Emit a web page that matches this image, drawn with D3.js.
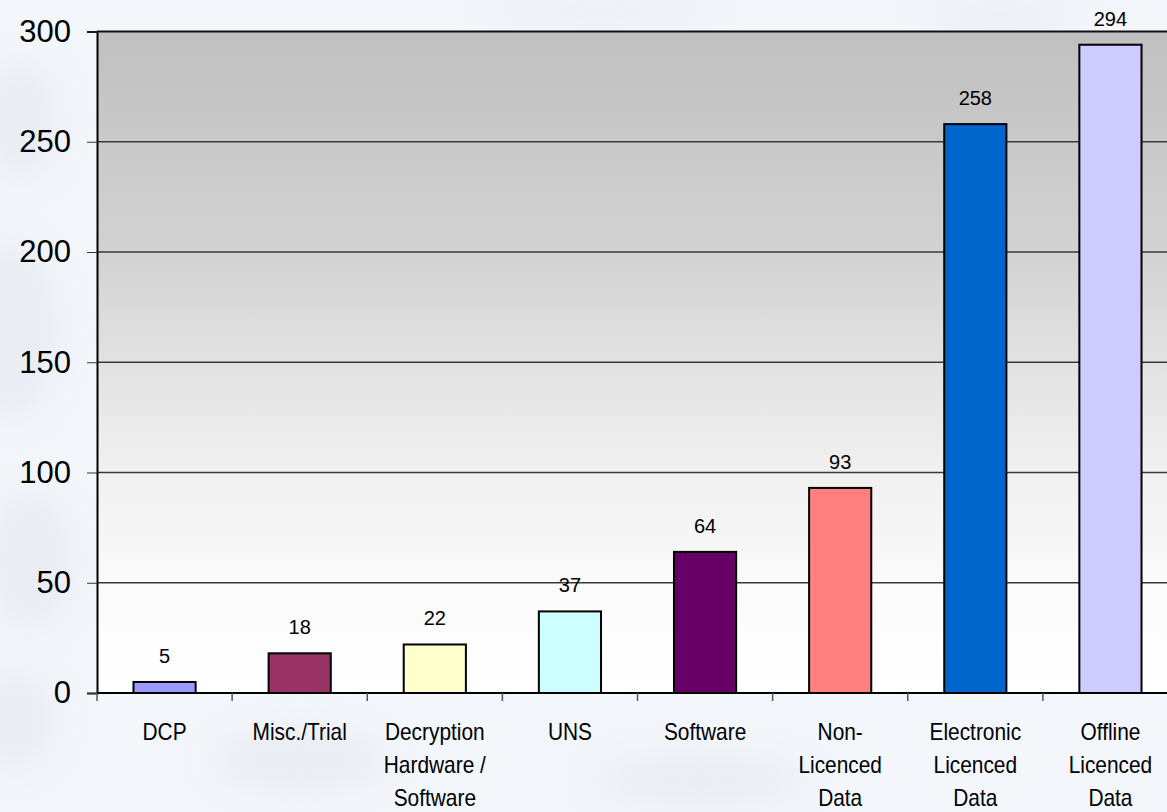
<!DOCTYPE html>
<html>
<head>
<meta charset="utf-8">
<script src="https://cdn.jsdelivr.net/npm/d3@7/dist/d3.min.js"></script>
<style>
  html, body { margin: 0; padding: 0; background: #f3f6fb; overflow: hidden; }
  svg { display: block; }
</style>
</head>
<body>
<svg id="chart" width="1167" height="812"></svg>
<script>
// Counts per category
const categories = [
  ["DCP"],
  ["Misc./Trial"],
  ["Decryption", "Hardware /", "Software"],
  ["UNS"],
  ["Software"],
  ["Non-", "Licenced", "Data"],
  ["Electronic", "Licenced", "Data"],
  ["Offline", "Licenced", "Data"]
];
const values = [5, 18, 22, 37, 64, 93, 258, 294];
const barColors = ["#9999ff", "#993366", "#ffffcc", "#ccffff", "#660066", "#ff8080", "#0066cc", "#ccccff"];
const yTicks = [0, 50, 100, 150, 200, 250, 300];

(function draw() {
  const svg = d3.select("#chart");
  const W = 1167, H = 812;
  const m = { left: 97, top: 31.5, bottom: 693, right: 1178 };

  const defs = svg.append("defs");

  // Soft cloudy page backdrop
  const blur = defs.append("filter").attr("id", "soft")
    .attr("x", "-50%").attr("y", "-50%").attr("width", "200%").attr("height", "200%");
  blur.append("feGaussianBlur").attr("stdDeviation", 18);

  const plotGrad = defs.append("linearGradient").attr("id", "plotBg")
    .attr("x1", 0).attr("y1", 0).attr("x2", 0).attr("y2", 1);
  [["0%", "#c0c0c0"], ["33%", "#d2d2d2"], ["50%", "#e2e2e2"], ["66%", "#f0f0f0"],
   ["85%", "#fbfbfb"], ["100%", "#ffffff"]]
    .forEach(([o, c]) => plotGrad.append("stop").attr("offset", o).attr("stop-color", c));

  svg.append("rect").attr("width", W).attr("height", H).attr("fill", "#f3f6fb");
  const clouds = svg.append("g").attr("filter", "url(#soft)").attr("opacity", 0.45);
  [[20, 120, 40, 60], [10, 330, 50, 90], [30, 560, 45, 70], [15, 720, 40, 50],
   [300, 760, 90, 30], [700, 780, 110, 25], [1000, 15, 80, 14], [600, 10, 120, 12]]
    .forEach(([cx, cy, rx, ry]) => clouds.append("ellipse")
      .attr("cx", cx).attr("cy", cy).attr("rx", rx).attr("ry", ry).attr("fill", "#dde2ea"));

  const x = d3.scaleBand().domain(d3.range(categories.length)).range([m.left, m.right])
    .paddingInner(0.54).paddingOuter(0.27);
  const band = (m.right - m.left) / categories.length;
  const y = d3.scaleLinear().domain([0, 300]).range([m.bottom, m.top]);

  // Plot area
  svg.append("rect").attr("x", m.left).attr("y", m.top)
    .attr("width", m.right - m.left).attr("height", m.bottom - m.top)
    .attr("fill", "url(#plotBg)");

  // Gridlines
  svg.append("g").selectAll("line").data(yTicks.filter(d => d > 0 && d < 300)).join("line")
    .attr("x1", m.left).attr("x2", m.right).attr("y1", d => y(d)).attr("y2", d => y(d))
    .attr("stroke", "#3a3a3a").attr("stroke-width", 1.3);
  svg.append("line").attr("x1", m.left).attr("x2", m.right).attr("y1", m.top).attr("y2", m.top)
    .attr("stroke", "#111").attr("stroke-width", 2);

  // Y axis
  const yAxis = svg.append("g").attr("transform", `translate(${m.left},0)`)
    .call(d3.axisLeft(y).tickValues(yTicks).tickSize(10).tickPadding(16));
  yAxis.select(".domain").attr("stroke", "#000").attr("stroke-width", 2);
  yAxis.selectAll(".tick line").attr("stroke", "#333");
  yAxis.selectAll(".tick text").attr("font-family", "'Liberation Sans', Arial, sans-serif")
    .attr("font-size", 31).attr("fill", "#000");

  // Bars
  svg.append("g").selectAll("rect").data(values).join("rect")
    .attr("x", (d, i) => x(i)).attr("width", x.bandwidth())
    .attr("y", d => y(d)).attr("height", d => m.bottom - y(d))
    .attr("fill", (d, i) => barColors[i]).attr("stroke", "#000").attr("stroke-width", 2);

  // Value labels
  svg.append("g").selectAll("text").data(values).join("text")
    .attr("x", (d, i) => x(i) + x.bandwidth() / 2).attr("y", d => y(d) - 19)
    .attr("text-anchor", "middle").attr("font-family", "'Liberation Sans', Arial, sans-serif")
    .attr("font-size", 20).attr("fill", "#000").text(d => d);

  // X axis line and category ticks
  svg.append("line").attr("x1", m.left).attr("x2", m.right).attr("y1", m.bottom).attr("y2", m.bottom)
    .attr("stroke", "#000").attr("stroke-width", 2);
  svg.append("g").selectAll("line").data(d3.range(categories.length + 1)).join("line")
    .attr("x1", i => m.left + i * band).attr("x2", i => m.left + i * band)
    .attr("y1", m.bottom).attr("y2", m.bottom + 8).attr("stroke", "#555").attr("stroke-width", 1.5);

  // Category labels (condensed)
  const cat = svg.append("g").selectAll("g").data(categories).join("g")
    .attr("transform", (d, i) => `translate(${x(i) + x.bandwidth() / 2},0)`);
  cat.each(function(lines) {
    const g = d3.select(this);
    lines.forEach((t, k) => {
      g.append("text")
        .attr("transform", `translate(0,${740 + k * 33}) scale(0.87,1)`)
        .attr("text-anchor", "middle")
        .attr("font-family", "'Liberation Sans', Arial, sans-serif")
        .attr("font-size", 24).attr("fill", "#000").text(t);
    });
  });
})();
</script>
</body>
</html>
